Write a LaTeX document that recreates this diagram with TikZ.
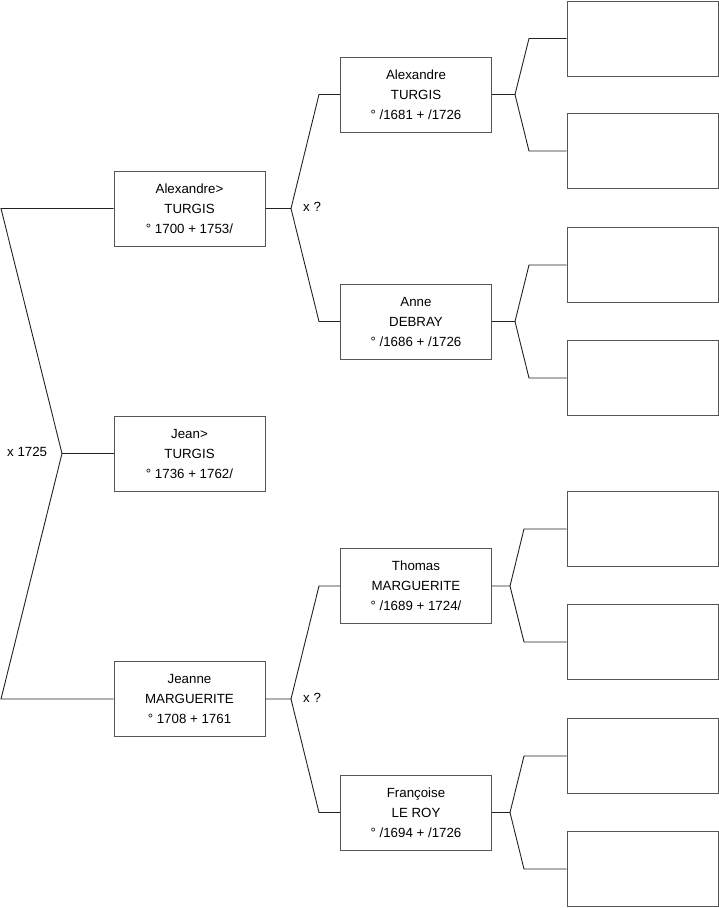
\documentclass[tikz,border=0pt]{standalone}
\usepackage{fontspec}
\setmainfont{Liberation Sans}
\definecolor{boxgray}{HTML}{555555}
\definecolor{linecol}{HTML}{222222}
\begin{document}
\begin{tikzpicture}[x=1pt,y=-1pt,
  person/.style={draw=boxgray, line width=1pt, minimum width=151pt, minimum height=75pt, inner sep=0pt, align=center, font=\fontsize{13.3}{20}\selectfont},
  link/.style={draw=linecol, line width=0.9pt},
  lbl/.style={font=\fontsize{13.3}{15}\selectfont, inner sep=0pt}]
\useasboundingbox (0,0) rectangle (719,908);
% generation 1
\node[person] (alex) at (189.5,208.5) {Alexandre>\\TURGIS\\° 1700 + 1753/};
\node[person] (jean) at (189.5,453.5) {Jean>\\TURGIS\\° 1736 + 1762/};
\node[person] (jeanne) at (189.5,699) {Jeanne\\MARGUERITE\\° 1708 + 1761};
% generation 2
\node[person] (alexp) at (416,94.5) {Alexandre\\TURGIS\\° /1681 + /1726};
\node[person] (anne) at (416,321.5) {Anne\\DEBRAY\\° /1686 + /1726};
\node[person] (thomas) at (416,586) {Thomas\\MARGUERITE\\° /1689 + 1724/};
\node[person] (francoise) at (416,812.5) {Françoise\\LE ROY\\° /1694 + /1726};
% generation 3 (empty)
\node[person] (e1) at (642.5,38.5) {};
\node[person] (e2) at (642.5,151) {};
\node[person] (e3) at (642.5,265) {};
\node[person] (e4) at (642.5,378) {};
\node[person] (e5) at (642.5,529) {};
\node[person] (e6) at (642.5,642) {};
\node[person] (e7) at (642.5,756) {};
\node[person] (e8) at (642.5,869) {};
% root connectors
\coordinate (L1) at (1,208.5);
\coordinate (Lm) at (62,453.5);
\coordinate (L2) at (1,699);
\draw[link] (alex.west) -- (L1) -- (Lm) -- (L2) -- (jeanne.west);
\draw[link] (Lm) -- (jean.west);
\node[lbl, anchor=west] (m0) at (7,452) {x 1725};
% Alexandre's parents
\coordinate (b1) at (291,208.5);
\coordinate (k1) at (319,94.5);
\coordinate (k2) at (319,321.5);
\draw[link] (alex.east) -- (b1) -- (k1) -- (alexp.west);
\draw[link] (b1) -- (k2) -- (anne.west);
\node[lbl, anchor=west] (m1) at (303,207) {x ?};
% Jeanne's parents
\coordinate (b2) at (291,699);
\coordinate (k3) at (319,586);
\coordinate (k4) at (319,812.5);
\draw[link] (jeanne.east) -- (b2) -- (k3) -- (thomas.west);
\draw[link] (b2) -- (k4) -- (francoise.west);
\node[lbl, anchor=west] (m2) at (303,698) {x ?};
% generation 3 connectors
\coordinate (c1) at (515,94.5);
\coordinate (c1a) at (529,38.5);
\coordinate (c1b) at (529,151);
\draw[link] (alexp.east) -- (c1) -- (c1a) -- (e1.west);
\draw[link] (c1) -- (c1b) -- (e2.west);
\coordinate (c2) at (515,321.5);
\coordinate (c2a) at (529,265);
\coordinate (c2b) at (529,378);
\draw[link] (anne.east) -- (c2) -- (c2a) -- (e3.west);
\draw[link] (c2) -- (c2b) -- (e4.west);
\coordinate (c3) at (510,586);
\coordinate (c3a) at (524,529);
\coordinate (c3b) at (524,642);
\draw[link] (thomas.east) -- (c3) -- (c3a) -- (e5.west);
\draw[link] (c3) -- (c3b) -- (e6.west);
\coordinate (c4) at (510,812.5);
\coordinate (c4a) at (524,756);
\coordinate (c4b) at (524,869);
\draw[link] (francoise.east) -- (c4) -- (c4a) -- (e7.west);
\draw[link] (c4) -- (c4b) -- (e8.west);
\end{tikzpicture}
\end{document}
